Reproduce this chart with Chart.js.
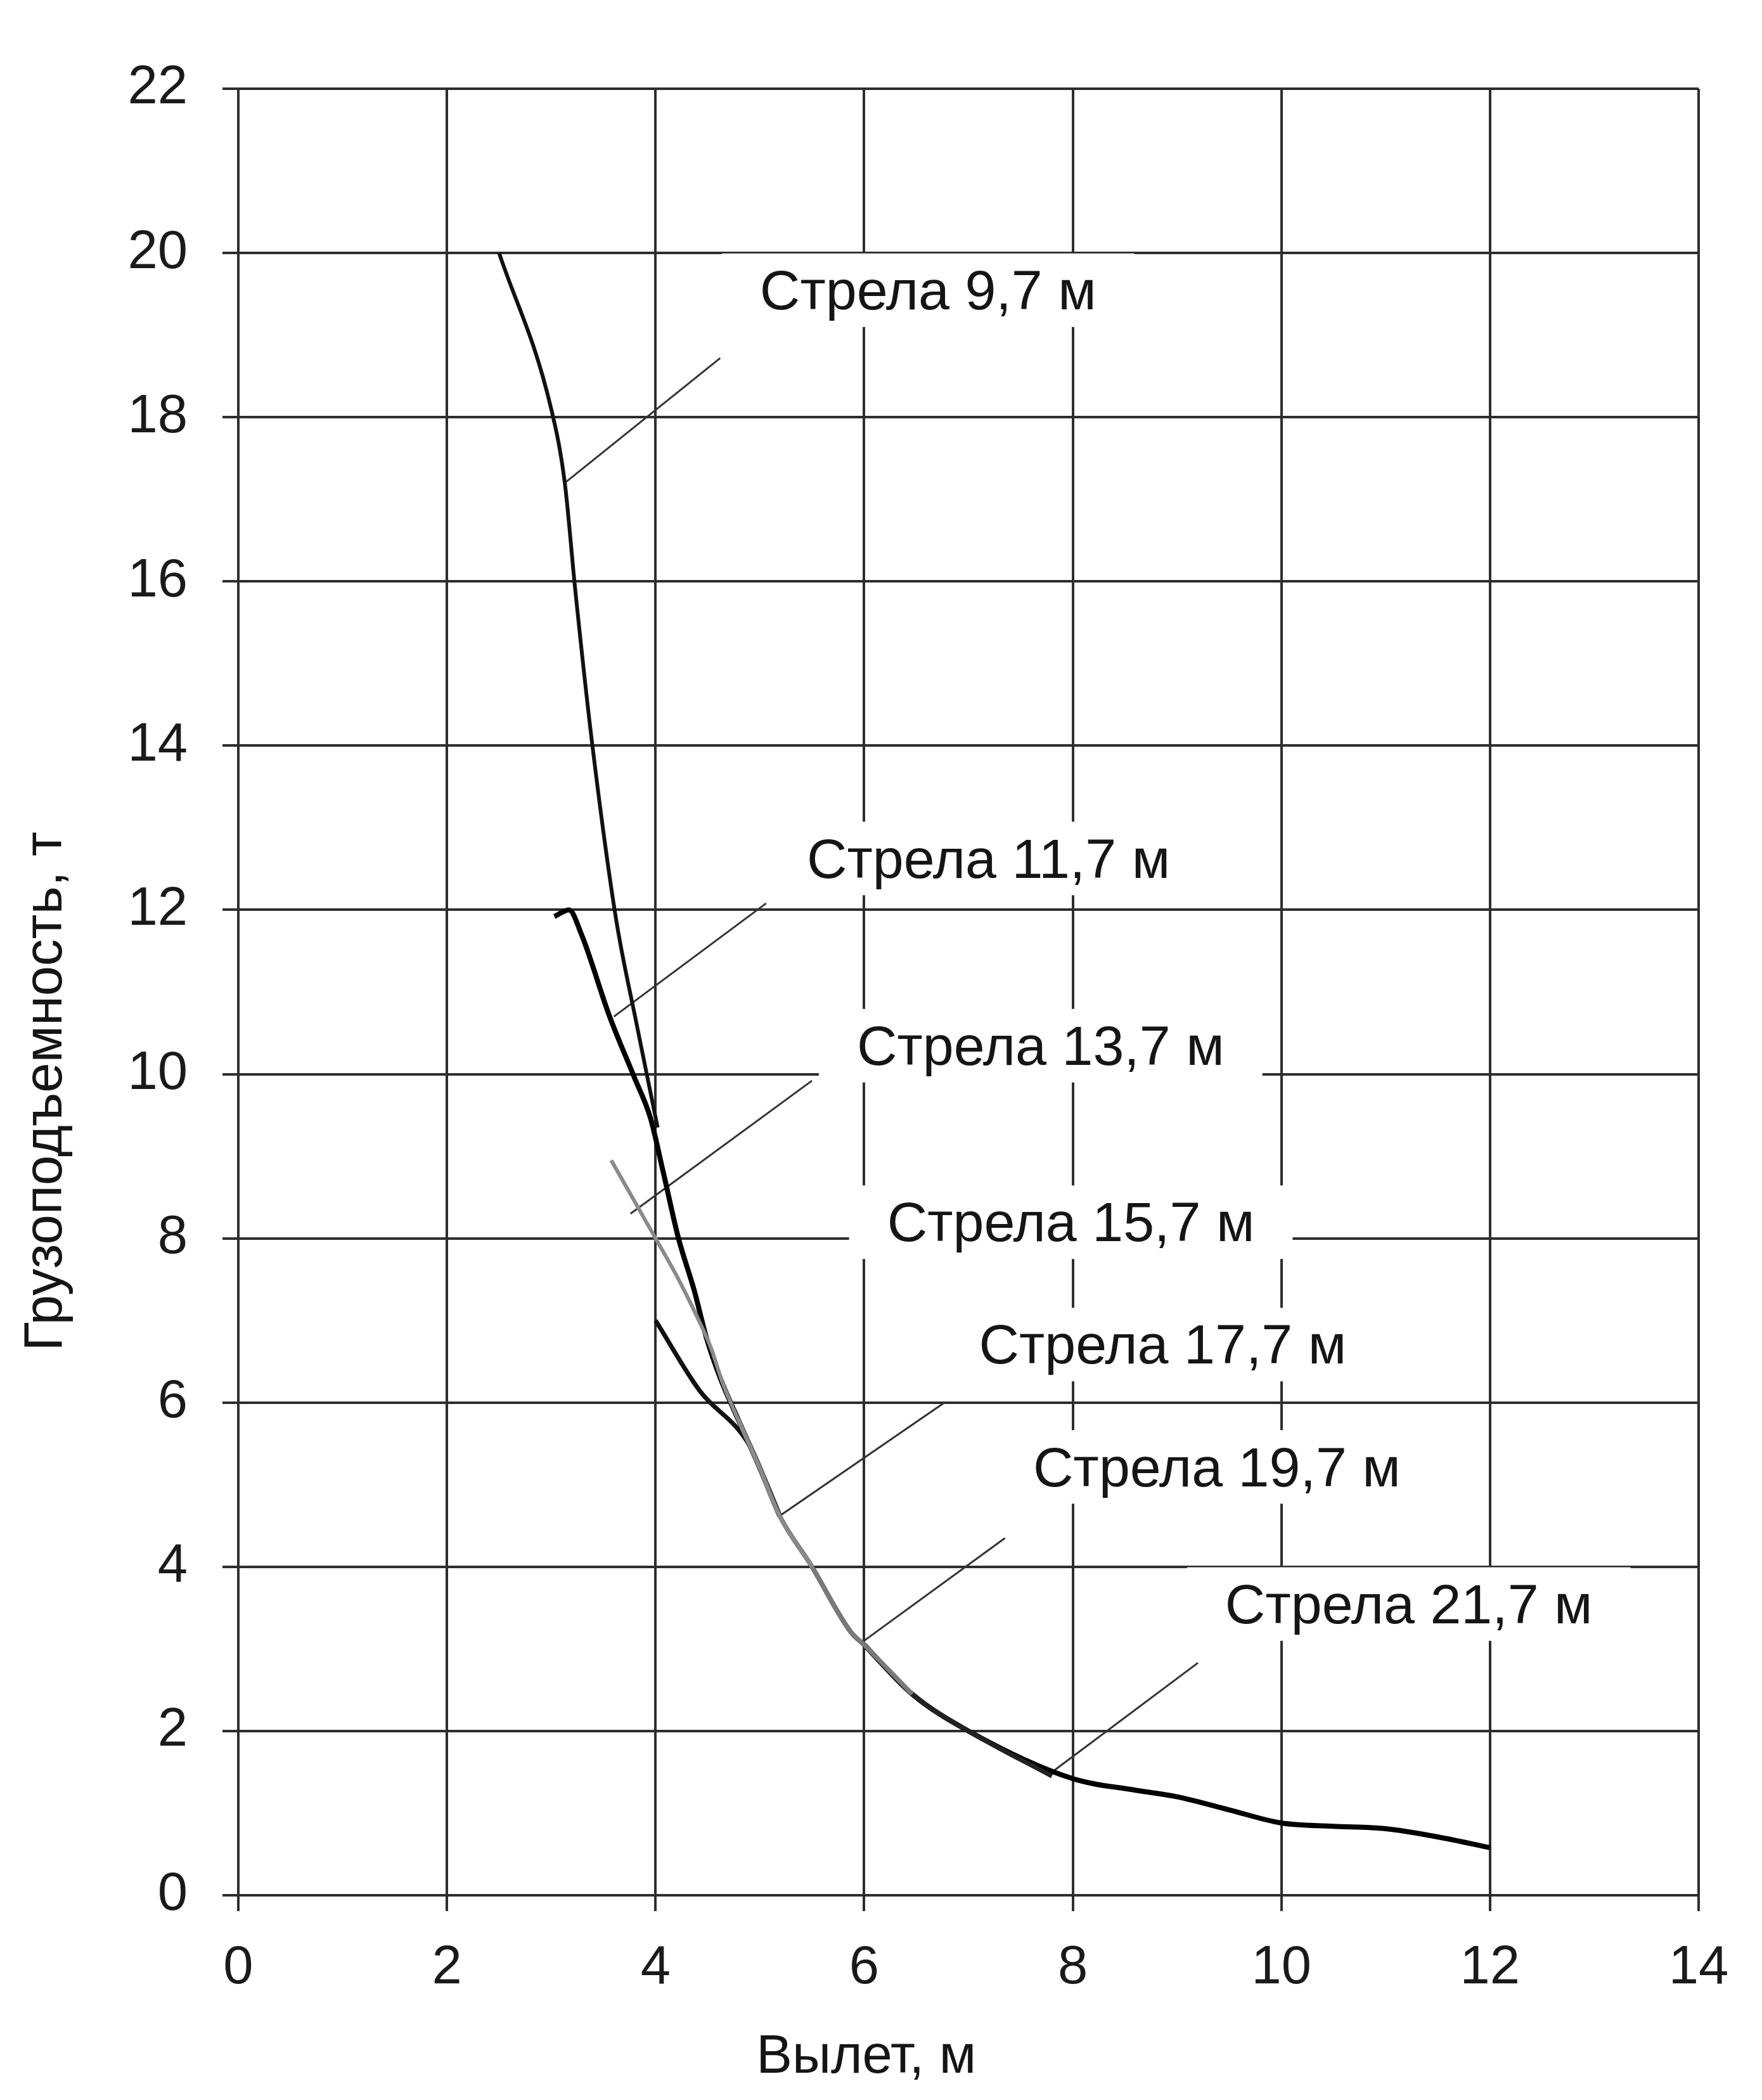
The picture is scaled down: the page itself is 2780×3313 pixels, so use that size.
<!DOCTYPE html>
<html lang="ru">
<head>
<meta charset="utf-8">
<title>Грузоподъемность</title>
<script src="https://cdn.jsdelivr.net/npm/chart.js@4"></script>
<style>
  html, body { margin: 0; padding: 0; background: #fff; }
  #wrap { width: 2780px; height: 3313px; }
</style>
</head>
<body>
<div id="wrap"><canvas id="craneChart"></canvas></div>
<script>
// оси: вылет, м / грузоподъемность, т
const xTicks = [0, 2, 4, 6, 8, 10, 12, 14];
const yTicks = [0, 2, 4, 6, 8, 10, 12, 14, 16, 18, 20, 22];

const boomNames = ['Стрела 9,7 м', 'Стрела 11,7 м', 'Стрела 13,7 м', 'Стрела 15,7 м',
                   'Стрела 17,7 м', 'Стрела 19,7 м', 'Стрела 21,7 м'];

// кривые (вылет -> груз)
const reach97 = [2.5, 3.0, 3.13, 3.23, 3.39, 3.62, 3.82, 4.02];
const load97  = [20.0, 18.1, 17.2, 15.9, 14.05, 11.9, 10.6, 9.35];

const reach117 = [3.03, 3.17, 3.29, 3.56, 3.8, 3.95, 4.075, 4.22, 4.37, 4.49, 4.62, 4.79, 5.0, 5.19];
const load117  = [11.92, 12.0, 11.7, 10.7, 9.95, 9.47, 8.8, 8.0, 7.37, 6.78, 6.3, 5.8, 5.2, 4.62];

const reach137 = [3.575, 4.0, 4.2, 4.37, 4.53, 4.64, 4.79, 5.0, 5.19, 5.5];
const load137  = [8.95, 8.0, 7.55, 7.12, 6.67, 6.25, 5.8, 5.2, 4.62, 4.0];

const reach157 = [4.0, 4.42, 4.9, 5.19, 5.5, 5.875, 6.0];
const load157  = [7.0, 6.15, 5.48, 4.62, 4.0, 3.2, 3.05];

const reach177 = [4.79, 5.0, 5.19, 5.5, 5.875, 6.0, 6.46];
const load177  = [5.8, 5.2, 4.62, 4.0, 3.2, 3.05, 2.45];

const reach197 = [5.5, 5.875, 6.0, 6.46, 7.0, 7.8];
const load197  = [4.0, 3.2, 3.05, 2.45, 2.0, 1.45];

const reach217 = [6.0, 6.46, 7.0, 8.0, 8.6, 9.0, 9.5, 10.0, 10.5, 11.0, 11.5, 12.0];
const load217  = [3.05, 2.45, 2.0, 1.42, 1.28, 1.2, 1.04, 0.88, 0.84, 0.81, 0.71, 0.58];

// подписи и выноски (в единицах осей)
const labelReach = [5.0, 5.45, 5.93, 6.22, 7.1, 7.62, 9.46];
const labelLoad  = [19.5, 12.58, 10.3, 8.15, 6.66, 5.17, 3.5];
const leaderFrom = [[4.62, 18.72], [5.06, 12.08], [5.5, 9.92], null, [6.77, 6.0], [7.35, 4.35], [9.2, 2.83]];
const leaderTo   = [[3.13, 17.2], [3.6, 10.7], [3.76, 8.3], null, [5.19, 4.62], [6.0, 3.1], [7.8, 1.5]];

const FONT = '"Liberation Sans", Arial, sans-serif';

function pts(xs, ys) {
  return xs.map((x, i) => ({ x: x, y: ys[i] }));
}

function curve(xs, ys, color, width) {
  return {
    data: pts(xs, ys),
    borderColor: color,
    borderWidth: width,
    pointRadius: 0,
    cubicInterpolationMode: 'monotone',
    fill: false
  };
}

const datasets = [
  curve(reach97, load97, '#111', 6),
  curve(reach137, load137, '#8a8a8a', 6),
  curve(reach177, load177, '#7a7a7a', 7),
  curve(reach157, load157, '#111', 7),
  curve(reach197, load197, '#222', 7),
  curve(reach117, load117, '#000', 8),
  curve(reach217, load217, '#000', 8)
];

leaderFrom.forEach((p, i) => {
  if (!p) return;
  datasets.push({
    data: [{ x: p[0], y: p[1] }, { x: leaderTo[i][0], y: leaderTo[i][1] }],
    borderColor: '#333',
    borderWidth: 3,
    pointRadius: 0,
    fill: false
  });
});

// подписи "Стрела ..." на белом фоне, поверх сетки, под кривыми
const boomLabels = {
  id: 'boomLabels',
  beforeDatasetsDraw(chart) {
    const { ctx, scales: { x, y } } = chart;
    ctx.save();
    ctx.font = '88px ' + FONT;
    ctx.textAlign = 'left';
    ctx.textBaseline = 'middle';
    boomNames.forEach((txt, i) => {
      const px = x.getPixelForValue(labelReach[i]);
      const py = y.getPixelForValue(labelLoad[i]);
      const w = ctx.measureText(txt).width;
      ctx.fillStyle = '#fff';
      ctx.fillRect(px - 60, py - 64, w + 120, 116);
      ctx.fillStyle = '#151515';
      ctx.fillText(txt, px, py);
    });
    ctx.restore();
  },
  afterDraw(chart) {
    const { ctx, chartArea: a } = chart;
    ctx.save();
    ctx.font = '85px ' + FONT;
    ctx.fillStyle = '#151515';
    ctx.textAlign = 'center';
    ctx.textBaseline = 'middle';
    ctx.fillText('Вылет, м', a.left + (a.right - a.left) * 0.43, a.bottom + 257);
    ctx.translate(a.left - 302, a.top + (a.bottom - a.top) * 0.555);
    ctx.rotate(-Math.PI / 2);
    ctx.fillText('Грузоподъемность, т', 0, 0);
    ctx.restore();
  }
};

new Chart(document.getElementById('craneChart'), {
  type: 'line',
  data: { datasets: datasets },
  options: {
    responsive: true,
    maintainAspectRatio: false,
    animation: false,
    devicePixelRatio: 1,
    layout: { padding: { top: 140, right: 100, bottom: 0, left: 0 } },
    plugins: { legend: { display: false }, tooltip: { enabled: false } },
    scales: {
      x: {
        type: 'linear',
        min: 0,
        max: 14,
        afterBuildTicks: s => { s.ticks = xTicks.map(v => ({ value: v })); },
        afterFit: s => { s.height = 323; },
        grid: { color: '#2e2e2e', lineWidth: 4, tickLength: 25, tickColor: '#2e2e2e' },
        border: { color: '#2e2e2e', width: 4 },
        ticks: { color: '#1a1a1a', padding: 40, font: { family: FONT, size: 85 } }
      },
      y: {
        min: 0,
        max: 22,
        afterBuildTicks: s => { s.ticks = yTicks.map(v => ({ value: v })); },
        afterFit: s => { s.width = 376; },
        grid: { color: '#2e2e2e', lineWidth: 4, tickLength: 25, tickColor: '#2e2e2e' },
        border: { color: '#2e2e2e', width: 4 },
        ticks: { color: '#1a1a1a', padding: 55, font: { family: FONT, size: 85 } }
      }
    }
  },
  plugins: [boomLabels]
});
</script>
</body>
</html>
